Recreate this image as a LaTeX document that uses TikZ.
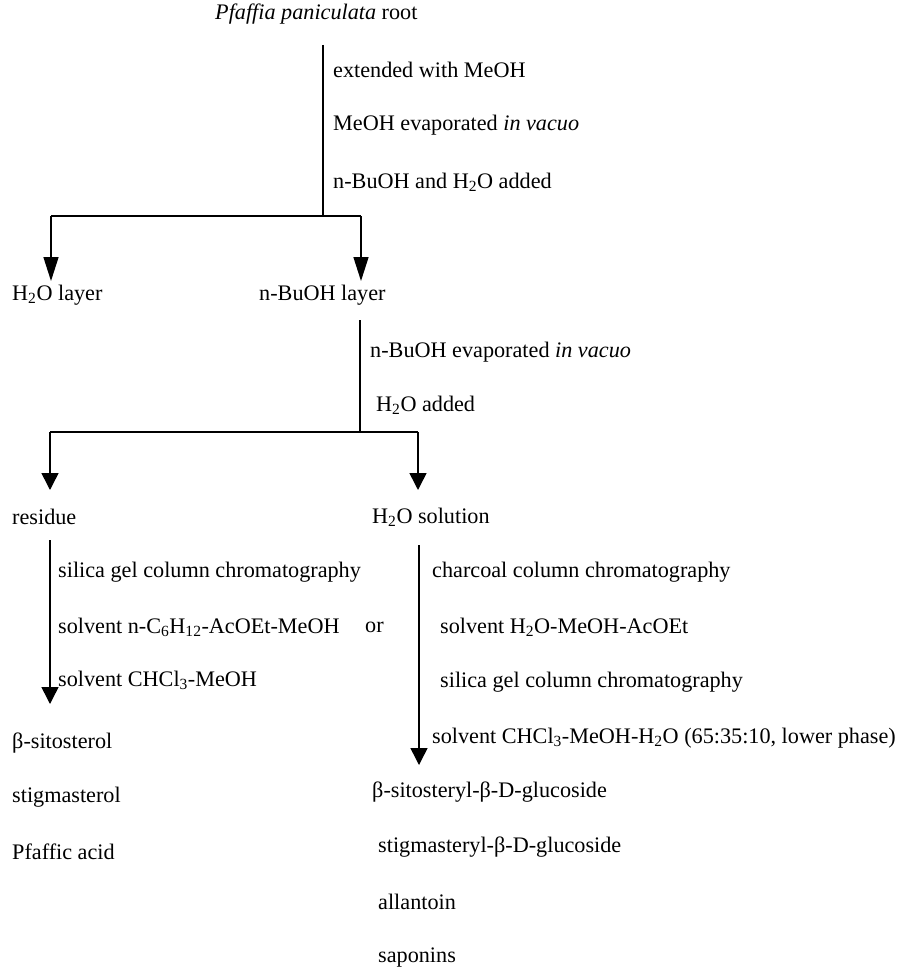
\documentclass[tikz,border=0pt]{standalone}
\usepackage{fontspec}
\setmainfont{Liberation Serif}
\usetikzlibrary{arrows.meta}
\newcommand{\sbs}[1]{\textsubscript{#1}}
\begin{document}
\begin{tikzpicture}[x=1pt,y=-1pt,
  txt/.style={anchor=west,inner sep=0pt,font=\fontsize{22.2}{26}\selectfont},
  ln/.style={line width=1.5pt},
  arr/.style={line width=1.5pt,-{Triangle[width=17pt,length=17pt]}},
  arrlong/.style={line width=1.5pt,-{Triangle[width=15pt,length=24pt]}}]
\useasboundingbox[fill=white] (0,0) rectangle (903,971);
% top
\node[txt] (root) at (215,14) {\textit{Pfaffia paniculata} root};
\coordinate (r0) at (323,45);
\coordinate (j1) at (323,216);
\draw[ln] (r0) -- (j1);
\node[txt] (l1a) at (333,70) {extended with MeOH};
\node[txt] (l1b) at (333,125) {MeOH evaporated \textit{in vacuo}};
\node[txt] (l1c) at (333,182) {n-BuOH and H\sbs{2}O added};
\coordinate (a1) at (51,281);
\coordinate (a2) at (361,281);
\draw[ln] (a1 |- j1) -- (a2 |- j1);
\draw[arrlong] (a1 |- j1) -- (a1);
\draw[arrlong] (a2 |- j1) -- (a2);
\node[txt] (h2ol) at (12,295) {H\sbs{2}O layer};
\node[txt] (buol) at (259,295) {n-BuOH layer};
% second stage
\coordinate (r1) at (360,320);
\coordinate (j2) at (360,432);
\draw[ln] (r1) -- (j2);
\node[txt] (l2a) at (370,352) {n-BuOH evaporated \textit{in vacuo}};
\node[txt] (l2b) at (376,405) {H\sbs{2}O added};
\coordinate (a3) at (50,490);
\coordinate (a4) at (418,490);
\draw[ln] (a3 |- j2) -- (a4 |- j2);
\draw[arr] (a3 |- j2) -- (a3);
\draw[arr] (a4 |- j2) -- (a4);
\node[txt] (resid) at (12,517) {residue};
\node[txt] (h2os) at (372,517) {H\sbs{2}O solution};
% left branch
\coordinate (r2) at (50,540);
\coordinate (a5) at (50,704);
\draw[arr] (r2) -- (a5);
\node[txt] (l3a) at (58,572) {silica gel column chromatography};
\node[txt] (l3b) at (58,627) {solvent n-C\sbs{6}H\sbs{12}-AcOEt-MeOH};
\node[txt] (or) at (365,627) {or};
\node[txt] (l3c) at (58,680) {solvent CHCl\sbs{3}-MeOH};
\node[txt] (p1) at (12,743) {β-sitosterol};
\node[txt] (p2) at (12,797) {stigmasterol};
\node[txt] (p3) at (12,852) {Pfaffic acid};
% right branch
\coordinate (r3) at (419,545);
\coordinate (a6) at (419,765);
\draw[arr] (r3) -- (a6);
\node[txt] (l4a) at (432,572) {charcoal column chromatography};
\node[txt] (l4b) at (440,627) {solvent H\sbs{2}O-MeOH-AcOEt};
\node[txt] (l4c) at (440,682) {silica gel column chromatography};
\node[txt] (l4d) at (432,738) {solvent CHCl\sbs{3}-MeOH-H\sbs{2}O (65:35:10, lower phase)};
\node[txt] (q1) at (372,792) {β-sitosteryl-β-D-glucoside};
\node[txt] (q2) at (378,847) {stigmasteryl-β-D-glucoside};
\node[txt] (q3) at (378,902) {allantoin};
\node[txt] (q4) at (378,958) {saponins};
\end{tikzpicture}
\end{document}
